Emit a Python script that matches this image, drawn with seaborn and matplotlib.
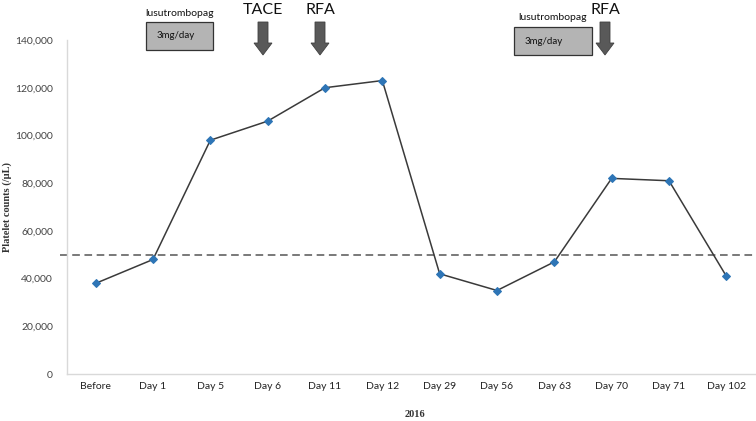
import matplotlib
matplotlib.use("Agg")
import matplotlib.pyplot as plt
import seaborn as sns
import pandas as pd
from matplotlib.patches import FancyArrow, Rectangle
from matplotlib.ticker import FuncFormatter

categories = ["Before", "Day 1", "Day 5", "Day 6", "Day 11", "Day 12",
              "Day 29", "Day 56", "Day 63", "Day 70", "Day 71", "Day 102"]
platelets = [38000, 48000, 98000, 106000, 120000, 123000,
             42000, 35000, 47000, 82000, 81000, 41000]
threshold = 50000
y_ticks = [0, 20000, 40000, 60000, 80000, 100000, 120000, 140000]

sns.set_theme(style="white")
plt.rcParams['font.family'] = ['Lato', 'DejaVu Sans']

W, H = 756, 421
fig = plt.figure(figsize=(W / 100, H / 100), dpi=100)
ax = fig.add_axes([67 / W, 1 - 374 / H, (755 - 67) / W, (374 - 40) / H])

df = pd.DataFrame({"cat": categories, "val": platelets})
df["x"] = range(len(categories))
sns.lineplot(data=df, x="x", y="val", ax=ax, color="#3a3a3a", linewidth=1.1,
             marker="D", markersize=4, markerfacecolor="#2E75B6",
             markeredgecolor="#2E75B6", zorder=3)

ax.axhline(threshold, color="#555555", linestyle=(0, (5, 3)), linewidth=1.1,
           xmin=-0.01, xmax=1, clip_on=False, zorder=2)

ax.set_xlim(-0.5, len(categories) - 0.5)
ax.set_ylim(0, 140000)
ax.set_xticks(range(len(categories)))
ax.set_xticklabels(categories, fontsize=7.5, color="#222222",
                   family=['Liberation Sans Narrow', 'Lato', 'DejaVu Sans'])
ax.set_yticks(y_ticks)
ax.yaxis.set_major_formatter(FuncFormatter(lambda v, p: f"{int(v):,}"))
ax.tick_params(axis="y", labelsize=7.5, labelcolor="#444444", length=0, pad=10)
ax.tick_params(axis="x", length=0, pad=6)

for s in ["top", "right"]:
    ax.spines[s].set_visible(False)
for s in ["left", "bottom"]:
    ax.spines[s].set_color("#d9d9d9")
    ax.spines[s].set_linewidth(1)

ax.set_xlabel("2016", family="Liberation Serif", fontsize=7.5, fontweight="bold",
              color="#333333")
ax.set_ylabel("Platelet counts (/µL)", family="Liberation Serif", fontsize=7.5,
              fontweight="bold", color="#333333")
ax.xaxis.set_label_coords(348 / 688 + (410 - 410) / 688, (374 - 410) / 334)
ax.yaxis.set_label_coords((12 - 67) / 688, (374 - 207) / 334)

def fx(x):
    return x / W

def fy(y):
    return 1 - y / H

# Lusutrombopag boxes
for (x0, x1, y0, y1) in [(146, 213, 22, 50), (514, 592, 27, 55)]:
    fig.patches.append(Rectangle((fx(x0), fy(y1)), fx(x1) - fx(x0), fy(y0) - fy(y1),
                                 transform=fig.transFigure, facecolor="#b4b4b4",
                                 edgecolor="#333333", linewidth=0.9))
    fig.text(fx(x0 + 11), fy((y0 + y1) / 2), "3mg/day", fontsize=7,
             ha="left", va="center", color="#111111")
    fig.text(fx((x0 + x1) / 2), fy(y0 - 9), "lusutrombopag", fontsize=7.5,
             ha="center", va="center", color="#111111")

# Arrows
for xc, label in [(263, "TACE"), (320, "RFA"), (605, "RFA")]:
    top, tip = 22, 55
    fig.patches.append(FancyArrow(fx(xc), fy(top), 0, fy(tip) - fy(top),
                                  width=10 / W, head_width=18 / W,
                                  head_length=12 / H, length_includes_head=True,
                                  transform=fig.transFigure,
                                  facecolor="#595959", edgecolor="#404040",
                                  linewidth=0.6))
    fig.text(fx(xc), fy(10), label, fontsize=11.5, ha="center", va="center",
             color="#111111")

fig.savefig("out.png", dpi=100)
